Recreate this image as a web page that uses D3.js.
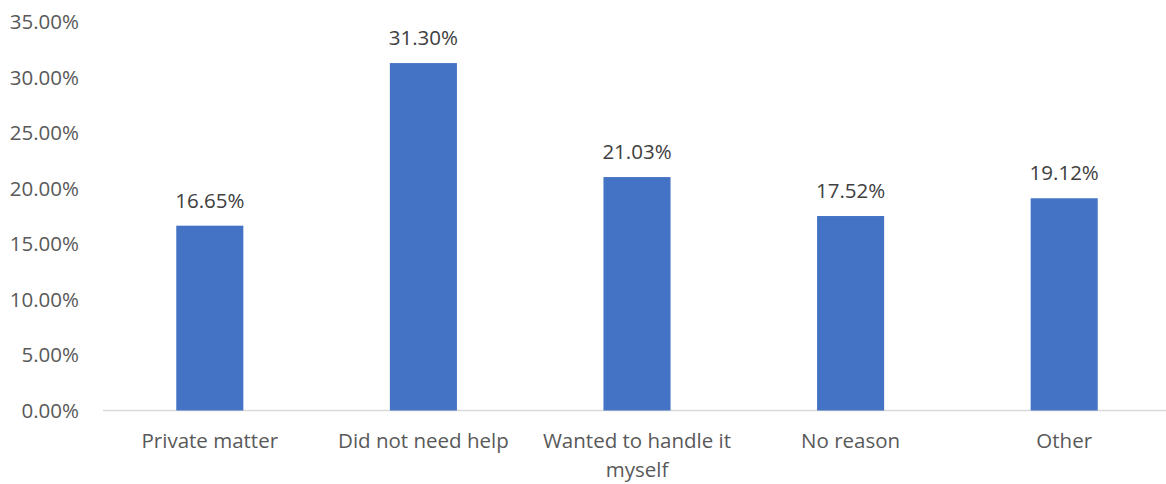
<!DOCTYPE html>
<html><head><meta charset="utf-8">
<script src="https://cdn.jsdelivr.net/npm/d3@7"></script>
<style>body{margin:0;background:#fff}text{font-family:"Open Sans",sans-serif}</style>
</head><body>
<svg id="c" width="1166" height="484"></svg>
<script>
const categories = [["Private matter"],["Did not need help"],["Wanted to handle it","myself"],["No reason"],["Other"]];
const values = [16.65, 31.30, 21.03, 17.52, 19.12];
const yTicks = [0,5,10,15,20,25,30,35];

const svg = d3.select("#c");
const x = d3.scaleBand().domain(d3.range(categories.length)).range([103,1171]).padding(0);
const y = d3.scaleLinear().domain([0,35]).range([410.5,22]);
const bw = x.bandwidth()*0.314;
const fs = 20.5;

svg.append("g").selectAll("text").data(yTicks).join("text")
  .attr("x",79).attr("y",d=>y(d)).attr("dy","0.35em").attr("text-anchor","end")
  .attr("fill","#595959").attr("font-size",fs).text(d=>d.toFixed(2)+"%");

svg.append("line").attr("x1",103).attr("x2",1166).attr("y1",410.5).attr("y2",410.5)
  .attr("stroke","#D9D9D9").attr("stroke-width",1.5);

svg.append("g").selectAll("rect").data(values).join("rect")
  .attr("x",(d,i)=>x(i)+x.bandwidth()/2-bw/2).attr("width",bw)
  .attr("y",d=>y(d)).attr("height",d=>y(0)-y(d)).attr("fill","#4472C4");

svg.append("g").selectAll("text").data(values).join("text")
  .attr("x",(d,i)=>x(i)+x.bandwidth()/2).attr("y",d=>y(d)-25).attr("dy","0.35em")
  .attr("text-anchor","middle").attr("fill","#404040").attr("font-size",fs)
  .text(d=>d.toFixed(2)+"%");

const cat = svg.append("g").selectAll("text").data(categories).join("text")
  .attr("x",(d,i)=>x(i)+x.bandwidth()/2).attr("y",441)
  .attr("text-anchor","middle").attr("fill","#595959").attr("font-size",fs);
cat.selectAll("tspan").data(d=>d).join("tspan")
  .attr("x",function(){return this.parentNode.getAttribute("x");})
  .attr("dy",(d,i)=>i===0?"0.35em":"29px").text(d=>d);
</script>
</body></html>
